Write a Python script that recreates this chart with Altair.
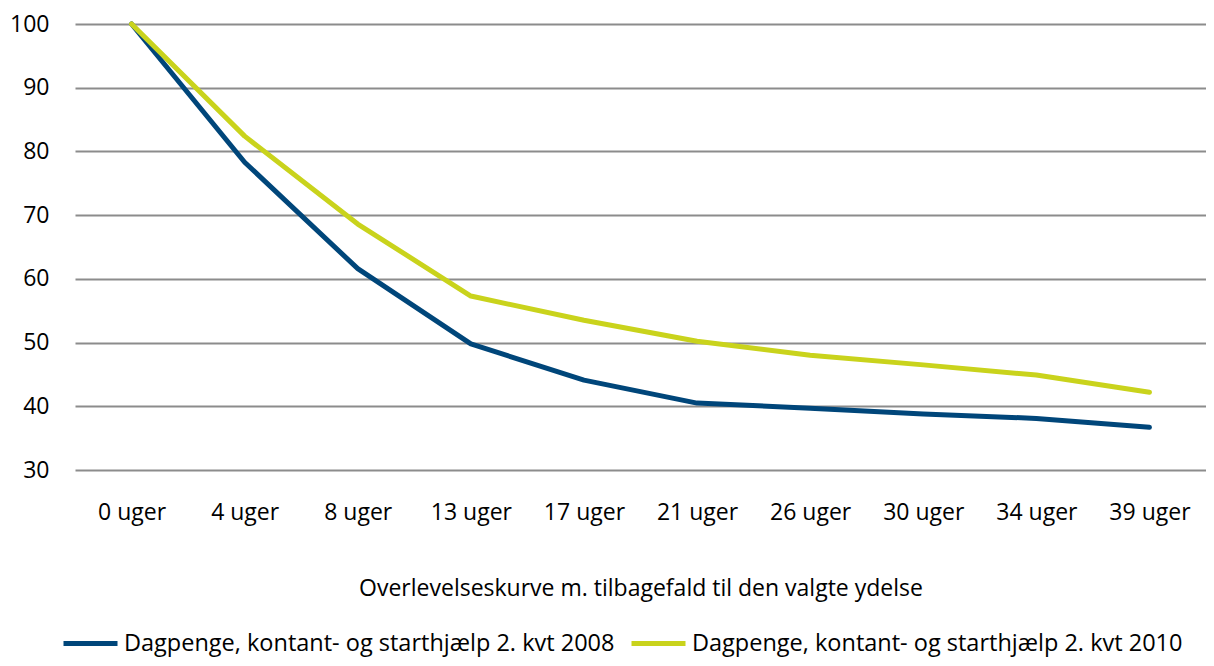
import altair as alt
import pandas as pd

weeks = ["0 uger", "4 uger", "8 uger", "13 uger", "17 uger", "21 uger", "26 uger", "30 uger", "34 uger", "39 uger"]
s2008 = [100, 78.3, 61.6, 49.8, 44.1, 40.5, 39.7, 38.8, 38.1, 36.7]
s2010 = [100, 82.4, 68.6, 57.3, 53.5, 50.2, 48.0, 46.5, 44.9, 42.2]
names = ["Dagpenge, kontant- og starthjælp 2. kvt 2008", "Dagpenge, kontant- og starthjælp 2. kvt 2010"]
colors = ["#00467A", "#C9D31C"]

rows = []
for i, w in enumerate(weeks):
    rows.append({"uge": w, "serie": names[0], "værdi": s2008[i], "ord": 0})
    rows.append({"uge": w, "serie": names[1], "værdi": s2010[i], "ord": 1})
df = pd.DataFrame(rows)

FONT = "Open Sans"

chart = alt.Chart(df).mark_line(strokeWidth=5, strokeCap="round", strokeJoin="round").encode(
    x=alt.X("uge:N", sort=weeks,
            scale=alt.Scale(paddingInner=0, paddingOuter=0.5),
            axis=alt.Axis(title="Overlevelseskurve m. tilbagefald til den valgte ydelse",
                          labelAngle=0, ticks=False, domain=False, grid=False,
                          labelPadding=31, titlePadding=53,
                          labelFontSize=23, titleFontSize=23, titleFontWeight="normal",
                          labelFont=FONT, titleFont=FONT, labelColor="#000", titleColor="#000")),
    y=alt.Y("værdi:Q", scale=alt.Scale(domain=[30, 100], nice=False, zero=False),
            axis=alt.Axis(title=None, values=[30, 40, 50, 60, 70, 80, 90, 100],
                          ticks=False, domain=False, gridColor="#8c8c8c", gridWidth=2,
                          labelPadding=26, labelFontSize=23, labelFont=FONT, labelColor="#000")),
    color=alt.Color("serie:N", scale=alt.Scale(domain=names, range=colors),
                    legend=alt.Legend(title=None, orient="none", direction="horizontal",
                                      legendX=-14, legendY=590,
                                      symbolType="stroke", symbolSize=2916, symbolStrokeWidth=5,
                                      labelFontSize=23.5, labelFont=FONT, labelColor="#000",
                                      labelLimit=700, columnPadding=6, labelOffset=4)),
    order="ord:Q",
).properties(
    width=1131, height=446,
    padding={"left": 67, "top": 16, "right": 0, "bottom": 188},
    autosize=alt.AutoSizeParams(type="none"),
).configure_view(stroke=None)

chart.save("out.html", embed_options={"renderer": "svg", "actions": False})
